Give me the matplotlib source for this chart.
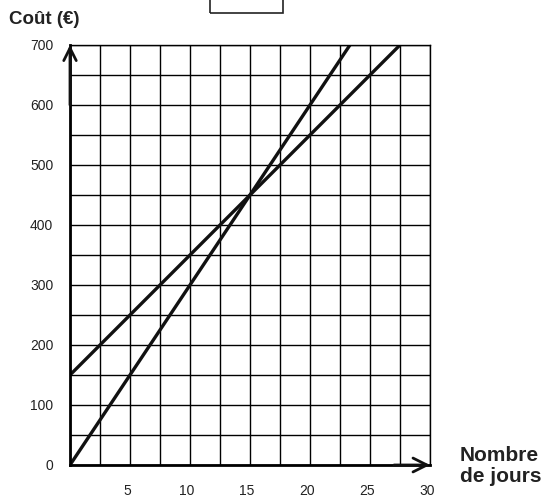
import matplotlib
matplotlib.use("Agg")
import matplotlib.pyplot as plt
import matplotlib.patches as patches
import matplotlib.transforms as transforms
import numpy as np

plt.rcParams['font.family'] = ['Liberation Sans', 'DejaVu Sans']

# values
days_a = [0, 15, 23.33]
cost_a = [0, 450, 700]
days_b = [0, 15, 27.5]
cost_b = [150, 450, 700]

x_ticks = [5, 10, 15, 20, 25, 30]
y_ticks = [0, 100, 200, 300, 400, 500, 600, 700]

fig = plt.figure(figsize=(5.55, 4.97), dpi=100)
ax = fig.add_axes([70/555, 1 - 465/497, 360/555, 420/497])

ax.set_xlim(0, 30)
ax.set_ylim(0, 700)

ax.set_xticks(x_ticks)
ax.set_xticks(np.arange(0, 30.1, 2.5), minor=True)
ax.set_yticks(y_ticks)
ax.set_yticks(np.arange(0, 701, 50), minor=True)
ax.grid(which='both', color='black', lw=1.0)
ax.set_axisbelow(True)
ax.tick_params(which='both', length=0)
ax.tick_params(axis='x', pad=14, labelsize=10, labelcolor='#222222')
ax.tick_params(axis='y', pad=12, labelsize=10, labelcolor='#222222')

# x labels sit a little left of their gridline in the original
shift = transforms.ScaledTranslation(-3/100, 0, fig.dpi_scale_trans)
for lab in ax.get_xticklabels():
    lab.set_transform(lab.get_transform() + shift)

for s in ['top', 'right']:
    ax.spines[s].set_linewidth(1.0)
ax.spines['left'].set_linewidth(2.0)
ax.spines['bottom'].set_linewidth(2.0)
ax.spines['left'].set_zorder(5)
ax.spines['bottom'].set_zorder(5)

ax.plot(days_a, cost_a, color='#111111', lw=2.4, solid_capstyle='butt')
ax.plot(days_b, cost_b, color='#111111', lw=2.4, solid_capstyle='butt')

# axis arrows
ax.annotate('', xy=(0, 700), xytext=(0, 600),
            arrowprops=dict(arrowstyle='->,head_length=0.9,head_width=0.45',
                            lw=2.0, color='#111111', shrinkA=0, shrinkB=0),
            annotation_clip=False, zorder=6)
ax.annotate('', xy=(30, 0), xytext=(27, 0),
            arrowprops=dict(arrowstyle='->,head_length=1.0,head_width=0.5',
                            lw=2.0, color='#111111', shrinkA=0, shrinkB=0),
            annotation_clip=False, zorder=6)

fig.text(9/555, 1 - 20/497, 'Coût (€)', fontsize=13.5, fontweight='bold',
         ha='left', va='center', color='#222222')
fig.text(460/555, 1 - 466/497, 'Nombre\nde jours', fontsize=15,
         fontweight='bold', ha='left', va='center', linespacing=1.1,
         color='#222222')

fig.add_artist(patches.Rectangle((210/555, 1 - 13/497), 73/555, 0.06,
                                 transform=fig.transFigure, fill=False,
                                 lw=1.2, edgecolor='#222222'))

fig.savefig('out.png', dpi=100, facecolor='white')
